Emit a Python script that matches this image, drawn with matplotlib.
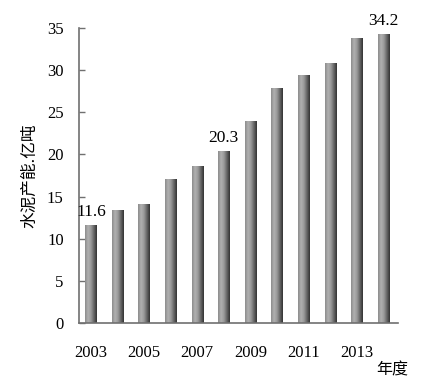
import matplotlib
matplotlib.use("Agg")
import matplotlib.pyplot as plt
import numpy as np
from matplotlib.colors import LinearSegmentedColormap

years = [2003, 2004, 2005, 2006, 2007, 2008, 2009, 2010, 2011, 2012, 2013, 2014]
capacity = [11.6, 13.3, 14.0, 17.0, 18.6, 20.3, 23.9, 27.8, 29.3, 30.8, 33.7, 34.2]
tick_years = [2003, 2005, 2007, 2009, 2011, 2013]
labeled = {2003: "11.6", 2008: "20.3", 2014: "34.2"}
yticks = [0, 5, 10, 15, 20, 25, 30, 35]

num_font = "Liberation Serif"
cjk = ["Noto Sans CJK SC", "DejaVu Sans"]

fig = plt.figure(figsize=(4.36, 3.87), dpi=100)
ax = fig.add_axes([0.181, 0.165, 0.732, 0.763])

cmap = LinearSegmentedColormap.from_list(
    "cyl", ["#8c8c8c", "#b0b0b0", "#9a9a9a", "#666666", "#333333"])
grad = np.linspace(0, 1, 64).reshape(1, -1)
width = 0.42
for x, (yr, v) in enumerate(zip(years, capacity)):
    ax.imshow(grad, cmap=cmap, aspect="auto",
              extent=(x - width / 2, x + width / 2, 0, v), zorder=2)

ax.set_xlim(-0.45, 11.55)
ax.set_ylim(0, 35)
ax.set_yticks(yticks)
ax.set_xticks([years.index(y) for y in tick_years])
ax.set_xticklabels([str(y) for y in tick_years])

for lab in ax.get_xticklabels() + ax.get_yticklabels():
    lab.set_fontfamily(num_font)
    lab.set_fontsize(12)

ax.tick_params(axis="y", direction="in", length=4, width=1, color="#707070", pad=11)
ax.tick_params(axis="x", length=0, pad=16)

for s in ["top", "right"]:
    ax.spines[s].set_visible(False)
for s in ["left", "bottom"]:
    ax.spines[s].set_color("#707070")
    ax.spines[s].set_linewidth(1.2)

for x, (yr, v) in enumerate(zip(years, capacity)):
    if yr in labeled:
        ax.annotate(labeled[yr], (x, v), xytext=(0, 4), textcoords="offset points",
                    ha="center", va="bottom", fontfamily=num_font, fontsize=12.5)

ax.set_ylabel("水泥产能.亿吨", family=cjk, fontsize=12, labelpad=6)
fig.text(0.9, 0.044, "年度", family=cjk, fontsize=11.5, ha="center", va="center")

fig.savefig("out.png", dpi=100)
